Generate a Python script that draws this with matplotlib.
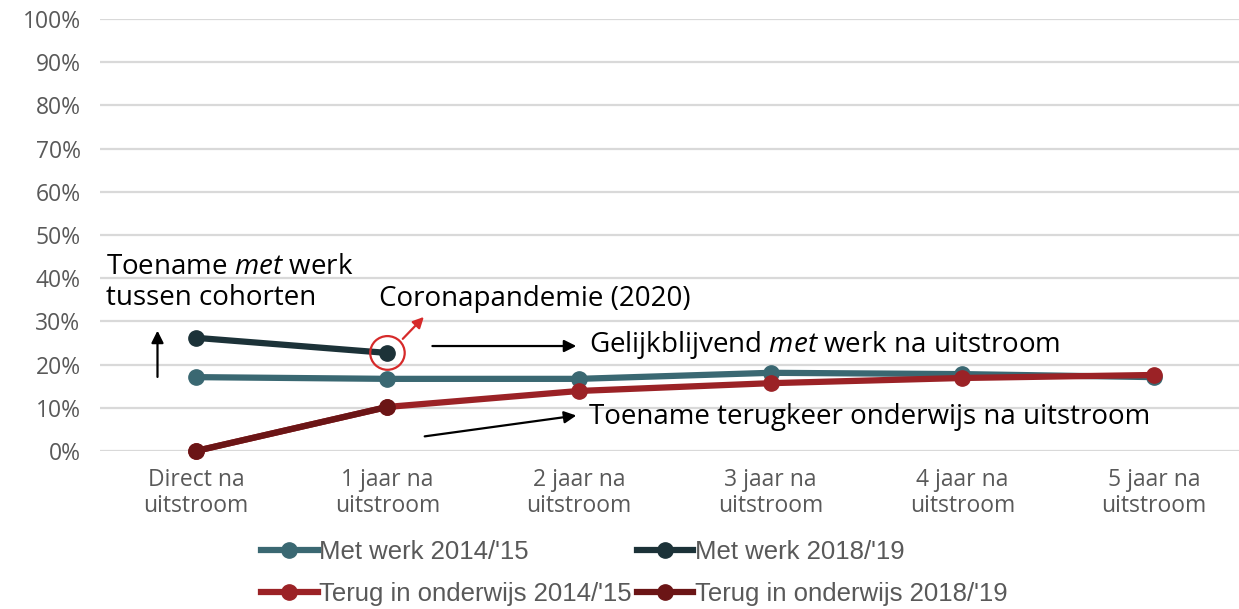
import matplotlib.pyplot as plt
from matplotlib.patches import Ellipse
from matplotlib.lines import Line2D

categories = ["Direct na\nuitstroom", "1 jaar na\nuitstroom", "2 jaar na\nuitstroom",
              "3 jaar na\nuitstroom", "4 jaar na\nuitstroom", "5 jaar na\nuitstroom"]
werk_1415 = [17.1, 16.7, 16.7, 18.1, 17.8, 17.1]
werk_1819 = [26.2, 22.7]
terug_1415 = [0.0, 10.2, 13.9, 15.7, 16.9, 17.6]
terug_1819 = [0.0, 10.2]
yticks = list(range(0, 101, 10))

c_werk_1415 = "#3a6872"
c_werk_1819 = "#1c3238"
c_terug_1415 = "#9b2226"
c_terug_1819 = "#6b1516"

plt.rcParams["font.family"] = ["Open Sans", "DejaVu Sans"]
plt.rcParams["mathtext.fontset"] = "custom"
plt.rcParams["mathtext.it"] = "Open Sans:italic"
plt.rcParams["mathtext.rm"] = "Open Sans"


def main():
    fig = plt.figure(figsize=(12.39, 6.09), dpi=100)
    ax = fig.add_axes([100 / 1239, 1 - 451 / 609, 1 - 100 / 1239, 432 / 609])

    x = list(range(len(categories)))
    lw, ms = 4.5, 11
    ax.plot(x, werk_1415, color=c_werk_1415, lw=lw, marker="o", ms=ms, clip_on=False,
            zorder=3)
    ax.plot(x, terug_1415, color=c_terug_1415, lw=lw, marker="o", ms=ms, clip_on=False,
            zorder=4)
    ax.plot(x[:2], werk_1819, color=c_werk_1819, lw=lw, marker="o", ms=ms, clip_on=False,
            zorder=5)
    ax.plot(x[:2], terug_1819, color=c_terug_1819, lw=lw, marker="o", ms=ms, clip_on=False,
            zorder=5)

    ax.set_xlim(-0.5, (1239 - 196) / 191.6)
    ax.set_ylim(0, 100)
    ax.set_yticks(yticks)
    ax.set_yticklabels([f"{v}%" for v in yticks])
    ax.set_xticks(x)
    ax.set_xticklabels(categories)
    ax.tick_params(length=0, labelsize=16.5, labelcolor="#595959")
    ax.tick_params(axis="y", pad=14)
    ax.tick_params(axis="x", pad=12, labelsize=16.5)
    for lab in ax.get_xticklabels():
        lab.set_linespacing(1.12)
    ax.grid(axis="y", color="#d9d9d9", lw=1.6)
    ax.set_axisbelow(True)
    for s in ax.spines.values():
        s.set_visible(False)

    # annotations
    fs = 20
    ax.text(-0.47, 45.8, "Toename $\\mathit{met}$ werk\ntussen cohorten", fontsize=fs,
            va="top", ha="left", linespacing=1.12)
    ax.annotate("", xy=(-0.2, 28.5), xytext=(-0.2, 16.5),
                arrowprops=dict(arrowstyle="-|>", color="black", lw=1.6, mutation_scale=18))
    ax.text(0.955, 35.3, "Coronapandemie (2020)", fontsize=fs, va="center", ha="left")
    ax.add_patch(Ellipse((1, 22.7), 0.18, 7.8, fill=False, ec="#d62a2a", lw=1.6, zorder=6))
    ax.annotate("", xy=(1.2, 31.5), xytext=(1.07, 25.5),
                arrowprops=dict(arrowstyle="-|>", color="#d62a2a", lw=1.6, mutation_scale=16))
    ax.annotate("", xy=(2.0, 24.3), xytext=(1.22, 24.3),
                arrowprops=dict(arrowstyle="-|>", color="black", lw=1.6, mutation_scale=18))
    ax.text(2.05, 24.6, "Gelijkblijvend $\\mathit{met}$ werk na uitstroom", fontsize=fs,
            va="center", ha="left")
    ax.annotate("", xy=(2.0, 8.3), xytext=(1.18, 3.3),
                arrowprops=dict(arrowstyle="-|>", color="black", lw=1.6, mutation_scale=18))
    ax.text(2.05, 7.8, "Toename terugkeer onderwijs na uitstroom", fontsize=fs,
            va="center", ha="left")

    handles = [Line2D([], [], color=c, lw=lw, marker="o", ms=ms)
               for c in (c_werk_1415, c_terug_1415, c_werk_1819, c_terug_1819)]
    labels = ["Met werk 2014/'15", "Terug in onderwijs 2014/'15",
              "Met werk 2018/'19", "Terug in onderwijs 2018/'19"]
    fig.legend(handles, labels, ncol=2, loc="lower left", bbox_to_anchor=(238 / 1239, -0.033),
               frameon=False, labelcolor="#595959", handlelength=2.2,
               handletextpad=0.05, columnspacing=0.2, labelspacing=0.7,
               prop={"family": ["Liberation Sans", "DejaVu Sans"], "size": 18.5})

    fig.savefig("out.png", dpi=100)


if __name__ == "__main__":
    main()
